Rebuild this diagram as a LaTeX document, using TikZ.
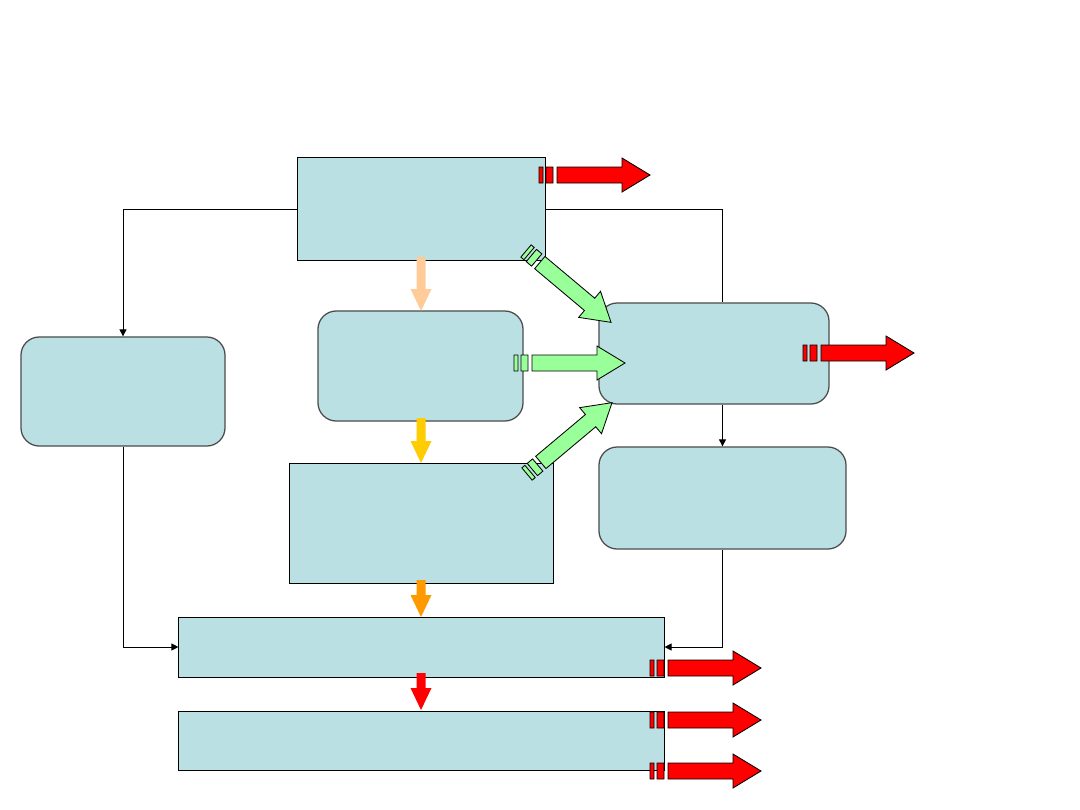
\documentclass[tikz,border=0pt]{standalone}
\usetikzlibrary{arrows.meta}
\definecolor{boxteal}{RGB}{187,224,227}
\definecolor{peach}{RGB}{255,204,153}
\definecolor{goldy}{RGB}{255,204,0}
\definecolor{orangy}{RGB}{255,153,0}
\definecolor{redarrow}{RGB}{255,0,0}
\definecolor{greenarrow}{RGB}{153,255,153}
\newcommand{\downblock}[3]{%
  \fill[#1] (416.5,#2) -- (425.5,#2) -- (425.5,#3-22) -- (431.5,#3-22)
    -- (421,#3) -- (410.5,#3-22) -- (416.5,#3-22) -- cycle;}

\begin{document}
\begin{tikzpicture}[x=0.025cm, y=-0.025cm, >={Triangle[length=5pt,width=5pt]},
    box/.style={draw=black, fill=boxteal, line width=0.7pt, inner sep=0pt},
    rbox/.style={box, draw=black!70, line width=0.9pt, rounded corners=13pt},
    link/.style={line width=0.7pt},
    pics/stripearrow/.style={code={
      \filldraw[fill=#1, line width=0.6pt] (0,-8) rectangle (4,8) (7,-8) rectangle (14,8)
        (18,-8) -- (83,-8) -- (83,-17) -- (111,0) -- (83,17) -- (83,8) -- (18,8) -- cycle;}}]
  \fill[white] (0,0) rectangle (1080,810);
  \useasboundingbox (0,0) rectangle (1080,810);
  \node[box, minimum width=6.175cm, minimum height=2.55cm] (source) at (421.5,209) {};
  \node[rbox, minimum width=5.1cm, minimum height=2.725cm] (left) at (123,391.5) {};
  \node[rbox, minimum width=5.125cm, minimum height=2.75cm] (middle) at (420.5,366) {};
  \node[rbox, minimum width=5.75cm, minimum height=2.525cm] (merge) at (714,353.5) {};
  \node[box, minimum width=6.575cm, minimum height=2.975cm] (lower) at (421.5,523.5) {};
  \node[rbox, minimum width=6.175cm, minimum height=2.55cm] (rightlow) at (722.5,498) {};
  \node[box, minimum width=12.125cm, minimum height=1.5cm] (stage1) at (421.5,647) {};
  \node[box, minimum width=12.125cm, minimum height=1.475cm] (stage2) at (421.5,740.5) {};
  \draw[link, ->] (source.west) -| (left.north);
  \draw[link] (source.east) -| (merge.north -| rightlow.north);
  \draw[link, ->] (rightlow.north |- merge.south) -- (rightlow.north);
  \draw[link, ->] (left.south) |- (stage1.west);
  \draw[link, ->] (rightlow.south) |- (stage1.east);
  \downblock{peach}{257}{311}
  \downblock{goldy}{418}{463}
  \downblock{orangy}{580}{617}
  \downblock{redarrow}{673}{710}
  \pic at (539,175) {stripearrow=redarrow};
  \pic at (803,353) {stripearrow=redarrow};
  \pic at (650,668) {stripearrow=redarrow};
  \pic at (650,720) {stripearrow=redarrow};
  \pic at (650,771) {stripearrow=redarrow};
  \pic at (514,363) {stripearrow=greenarrow};
  \pic[rotate=-40] at (526,251) {stripearrow=greenarrow};
  \pic[rotate=40] at (527,474) {stripearrow=greenarrow};
\end{tikzpicture}
\end{document}
